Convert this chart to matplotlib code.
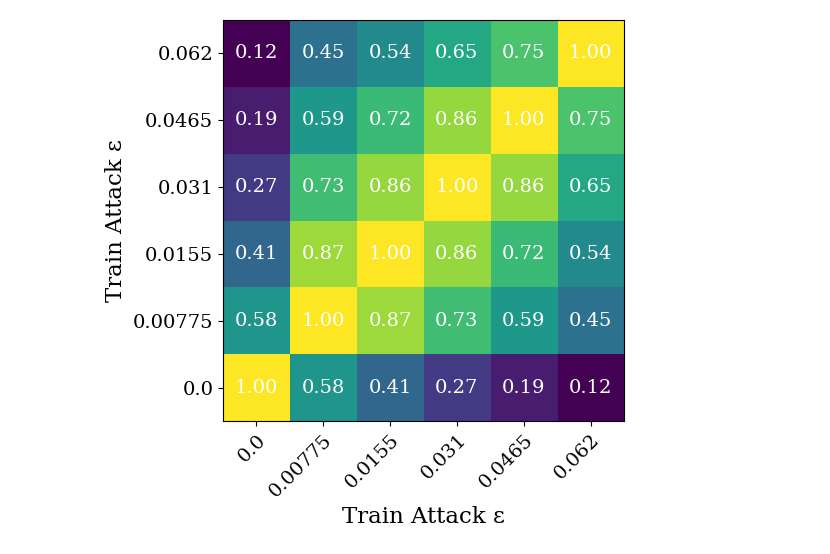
import matplotlib

matplotlib.use("Agg")
import matplotlib.pyplot as plt
import numpy as np

plt.rcParams["font.family"] = "DejaVu Serif"

eps_labels = ["0.0", "0.00775", "0.0155", "0.031", "0.0465", "0.062"]

# rows from bottom (eps 0.0) to top (eps 0.062)
row_0 = [1.00, 0.58, 0.41, 0.27, 0.19, 0.12]
row_00775 = [0.58, 1.00, 0.87, 0.73, 0.59, 0.45]
row_0155 = [0.41, 0.87, 1.00, 0.86, 0.72, 0.54]
row_031 = [0.27, 0.73, 0.86, 1.00, 0.86, 0.65]
row_0465 = [0.19, 0.59, 0.72, 0.86, 1.00, 0.75]
row_062 = [0.12, 0.45, 0.54, 0.65, 0.75, 1.00]

matrix = np.array([row_0, row_00775, row_0155, row_031, row_0465, row_062])

fig = plt.figure(figsize=(8.3, 5.54), dpi=100)
ax = fig.add_axes([223 / 830, 1 - 421 / 554, 401 / 830, 401 / 554])
ax.imshow(matrix, cmap="viridis", origin="lower", aspect="auto")

n = len(eps_labels)
for i in range(n):
    for j in range(n):
        ax.text(j, i, f"{matrix[i, j]:.2f}", ha="center", va="center",
                color="white", fontsize=14)

ax.set_xticks(range(n))
ax.set_yticks(range(n))
ax.set_xticklabels(eps_labels, rotation=45, ha="right", rotation_mode="anchor", fontsize=14)
ax.set_yticklabels(eps_labels, fontsize=14)
ax.set_xlabel("Train Attack ε", fontsize=16.5)
ax.set_ylabel("Train Attack ε", fontsize=16.5)

fig.savefig("out.png", dpi=100)
